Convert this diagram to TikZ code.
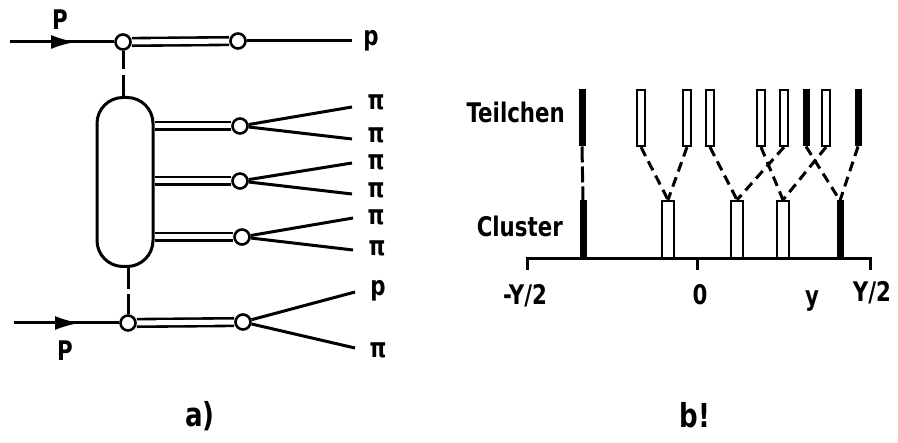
\documentclass[tikz,border=0pt]{standalone}
\usepackage{fontspec}
\setmainfont[FakeStretch=0.79]{DejaVu Sans Bold}
\usetikzlibrary{arrows.meta,backgrounds}
\begin{document}
\begin{tikzpicture}[x=1pt,y=-1pt,
  ln/.style={line width=3pt},
  dbl/.style={line width=2.6pt, double distance=5pt, double=white},
  vtx/.style={circle, draw, line width=2.6pt, fill=white, minimum size=15pt, inner sep=0pt},
  lbl/.style={font=\fontsize{27}{30}\selectfont, inner sep=0pt},
  big/.style={font=\fontsize{33}{36}\selectfont, inner sep=0pt},
  dsh/.style={line width=3pt, dash pattern=on 10pt off 6pt},
  tbo/.style={draw, line width=2.2pt, fill=white, minimum width=8pt, minimum height=56pt, inner sep=0pt},
  tbs/.style={draw, line width=1pt, fill=black, minimum width=6pt, minimum height=56pt, inner sep=0pt},
  cbo/.style={draw, line width=2.2pt, fill=white, minimum width=12pt, minimum height=58pt, inner sep=0pt},
  cbs/.style={draw, line width=1pt, fill=black, minimum width=6pt, minimum height=58pt, inner sep=0pt},
  arr/.style={line width=3pt, -{Latex[length=25pt,width=14pt]}},
]
\path[use as bounding box] (0,0) rectangle (898,443);

% ---------- part a ----------
\node[vtx] (v1) at (123,42) {};
\node[vtx] (v2) at (238,41) {};
\node[vtx] (v3) at (128,323) {};
\node[vtx] (v4) at (243,322) {};
\node[draw, line width=3pt, rounded corners=26pt, minimum width=56pt, minimum height=169pt, inner sep=0pt] (cap) at (125,182) {};
\node[vtx] (k1) at (240,126) {};
\node[vtx] (k2) at (240,181) {};
\node[vtx] (k3) at (242,237) {};

\coordinate (s1) at (10,42);
\coordinate (a1) at (76,42);
\coordinate (s2) at (14,323);
\coordinate (a2) at (80,323);
\coordinate (o1) at (352,41);
\coordinate (e1) at (352,107);
\coordinate (e2) at (352,139);
\coordinate (e3) at (352,163);
\coordinate (e4) at (352,194);
\coordinate (e5) at (353,218);
\coordinate (e6) at (353,250);
\coordinate (e7) at (355,292);
\coordinate (e8) at (355,348);

\begin{scope}[on background layer]
\draw[ln] (s1) -- (v1);
\draw[arr] (s1) -- (a1);
\draw[ln] (s2) -- (v3);
\draw[arr] (s2) -- (a2);
\draw[dbl] (v1) -- (v2);
\draw[dbl] (v3) -- (v4);
\draw[ln] (v2) -- (o1);
\draw[ln, dash pattern=on 18pt off 6pt on 80pt off 1pt] (v1.south) -- (v1.south |- cap.north);
\draw[ln, dash pattern=on 21pt off 5pt on 80pt off 1pt] (v3.north |- cap.south) -- (v3.north);
\draw[dbl] (cap.east |- k1) -- (k1);
\draw[dbl] (cap.east |- k2) -- (k2);
\draw[dbl] (cap.east |- k3) -- (k3);
\draw[ln] (k1) -- (e1);
\draw[ln] (k1) -- (e2);
\draw[ln] (k2) -- (e3);
\draw[ln] (k2) -- (e4);
\draw[ln] (k3) -- (e5);
\draw[ln] (k3) -- (e6);
\draw[ln] (v4) -- (e7);
\draw[ln] (v4) -- (e8);
\end{scope}

\node[lbl] (lP1) at (60,20) {P};
\node[lbl] (lP2) at (65,351) {P};
\node[lbl] (lp1) at (371,41) {p};
\node[lbl] (lpi1) at (376,102) {π};
\node[lbl] (lpi2) at (376,135) {π};
\node[lbl] (lpi3) at (376,162) {π};
\node[lbl] (lpi4) at (376,190) {π};
\node[lbl] (lpi5) at (376,217) {π};
\node[lbl] (lpi6) at (377,248) {π};
\node[lbl] (lp2) at (378,291) {p};
\node[lbl] (lpi7) at (378,350) {π};
\node[big, anchor=base] (la) at (200,427) {a)};

% ---------- part b ----------
\node[tbs] (t0) at (582,118) {};
\node[tbo] (t1) at (641,118) {};
\node[tbo] (t2) at (687,118) {};
\node[tbo] (t3) at (710,118) {};
\node[tbo] (t4) at (761,118) {};
\node[tbo] (t5) at (784,118) {};
\node[tbs] (t6) at (806,118) {};
\node[tbo] (t7) at (826,118) {};
\node[tbs] (t8) at (858,118) {};

\node[cbs] (c0) at (583,230) {};
\node[cbo] (c1) at (668,230) {};
\node[cbo] (c2) at (737,230) {};
\node[cbo] (c3) at (783,230) {};
\node[cbs] (c4) at (840,230) {};

\coordinate (ax0) at (527,259);
\coordinate (ax1) at (870,259);
\coordinate (axm) at (697,259);
\coordinate (tk0) at (527,270);
\coordinate (tk1) at (870,270);
\coordinate (tkm) at (697,270);

\begin{scope}[on background layer]
\draw[ln, dash pattern=on 16pt off 4pt] (t0.south) -- (c0.north);
\draw[dsh] (t1.south) -- (c1.north);
\draw[dsh] (t2.south) -- (c1.north);
\draw[dsh] (t3.south) -- (c2.north);
\draw[dsh] (t5.south) -- (c2.north);
\draw[dsh] (t4.south) -- (c3.north);
\draw[dsh] (t7.south) -- (c3.north);
\draw[dsh] (t6.south) -- (c4.north);
\draw[dsh] (t8.south) -- (c4.north);
\end{scope}
\draw[ln] (tk0) -- (ax0) -- (ax1) -- (tk1);
\draw[ln] (axm) -- (tkm);

\node[lbl, anchor=base east] (lt) at (565,123) {Teilchen};
\node[lbl, anchor=base east] (lc) at (563,237) {Cluster};
\node[lbl, anchor=base] (lm) at (525,305) {-Y/2};
\node[lbl, anchor=base] (l0) at (700,305) {0};
\node[lbl] (ly) at (812,301) {y};
\node[lbl, anchor=base] (lY) at (872,302) {Y/2};
\node[big, anchor=base] (lb) at (695,428) {b!};
\end{tikzpicture}
\end{document}
